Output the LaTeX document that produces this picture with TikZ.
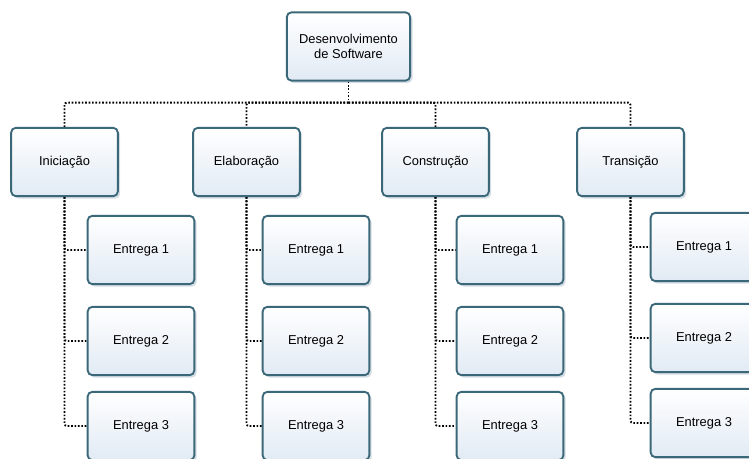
\documentclass[tikz,border=0pt]{standalone}
\usepackage{fontspec}
\setsansfont{Liberation Sans}
\usepackage{tikz}
\usetikzlibrary{shadows}
\definecolor{WBSBorder}{HTML}{3B6878}
\definecolor{WBSFill}{HTML}{E1EAF4}
\definecolor{WBSShadow}{HTML}{9FB3C2}
\tikzset{
  wbs/.style={
    rounded corners=4pt,
    draw=WBSBorder,
    line width=1.6pt,
    top color=white,
    bottom color=WBSFill,
    minimum width=3.2cm,
    minimum height=2.05cm,
    align=center,
    font=\sffamily\fontsize{11}{12.5}\selectfont,
    drop shadow={shadow xshift=2pt,shadow yshift=-2pt,fill=WBSShadow,opacity=.45}
  },
  rootbox/.style={wbs,minimum width=3.7cm},
  link/.style={draw=black,line width=1.6pt,dash pattern=on 1.4pt off 1.5pt,rounded corners=2pt}
}

\begin{document}
\begin{tikzpicture}[x=0.03cm,y=0.03cm]
  \useasboundingbox (0,0) rectangle (749,459);
  \clip (0,0) rectangle (749,459);

  % Top of the breakdown.
  \node[rootbox] (root) at (348.5,412.5) {Desenvolvimento\\de Software};

  % Phases.
  \node[wbs] (ini) at (64.5,297)  {Iniciação};
  \node[wbs] (ela) at (246.5,297) {Elaboração};
  \node[wbs] (con) at (435.5,297) {Construção};
  \node[wbs] (tra) at (630.5,297) {Transição};

  \draw[link] (root.south) -- ++(0,-21) coordinate (bus);
  \draw[link] (bus) -| (ini.north);
  \draw[link] (bus) -| (ela.north);
  \draw[link] (bus) -| (con.north);
  \draw[link] (bus) -| (tra.north);

  % Deliveries of each phase.
  \node[wbs] (ini1) at (141,209) {Entrega 1};
  \node[wbs] (ini2) at (141,118) {Entrega 2};
  \node[wbs] (ini3) at (141,33)  {Entrega 3};

  \node[wbs] (ela1) at (316,209) {Entrega 1};
  \node[wbs] (ela2) at (316,118) {Entrega 2};
  \node[wbs] (ela3) at (316,33)  {Entrega 3};

  \node[wbs] (con1) at (510,209) {Entrega 1};
  \node[wbs] (con2) at (510,118) {Entrega 2};
  \node[wbs] (con3) at (510,33)  {Entrega 3};

  \node[wbs] (tra1) at (704,212) {Entrega 1};
  \node[wbs] (tra2) at (704,121) {Entrega 2};
  \node[wbs] (tra3) at (704,36)  {Entrega 3};

  \draw[link] (ini.south) |- (ini1.west);
  \draw[link] (ini.south) |- (ini2.west);
  \draw[link] (ini.south) |- (ini3.west);

  \draw[link] (ela.south) |- (ela1.west);
  \draw[link] (ela.south) |- (ela2.west);
  \draw[link] (ela.south) |- (ela3.west);

  \draw[link] (con.south) |- (con1.west);
  \draw[link] (con.south) |- (con2.west);
  \draw[link] (con.south) |- (con3.west);

  \draw[link] (tra.south) |- (tra1.west);
  \draw[link] (tra.south) |- (tra2.west);
  \draw[link] (tra.south) |- (tra3.west);
\end{tikzpicture}
\end{document}
